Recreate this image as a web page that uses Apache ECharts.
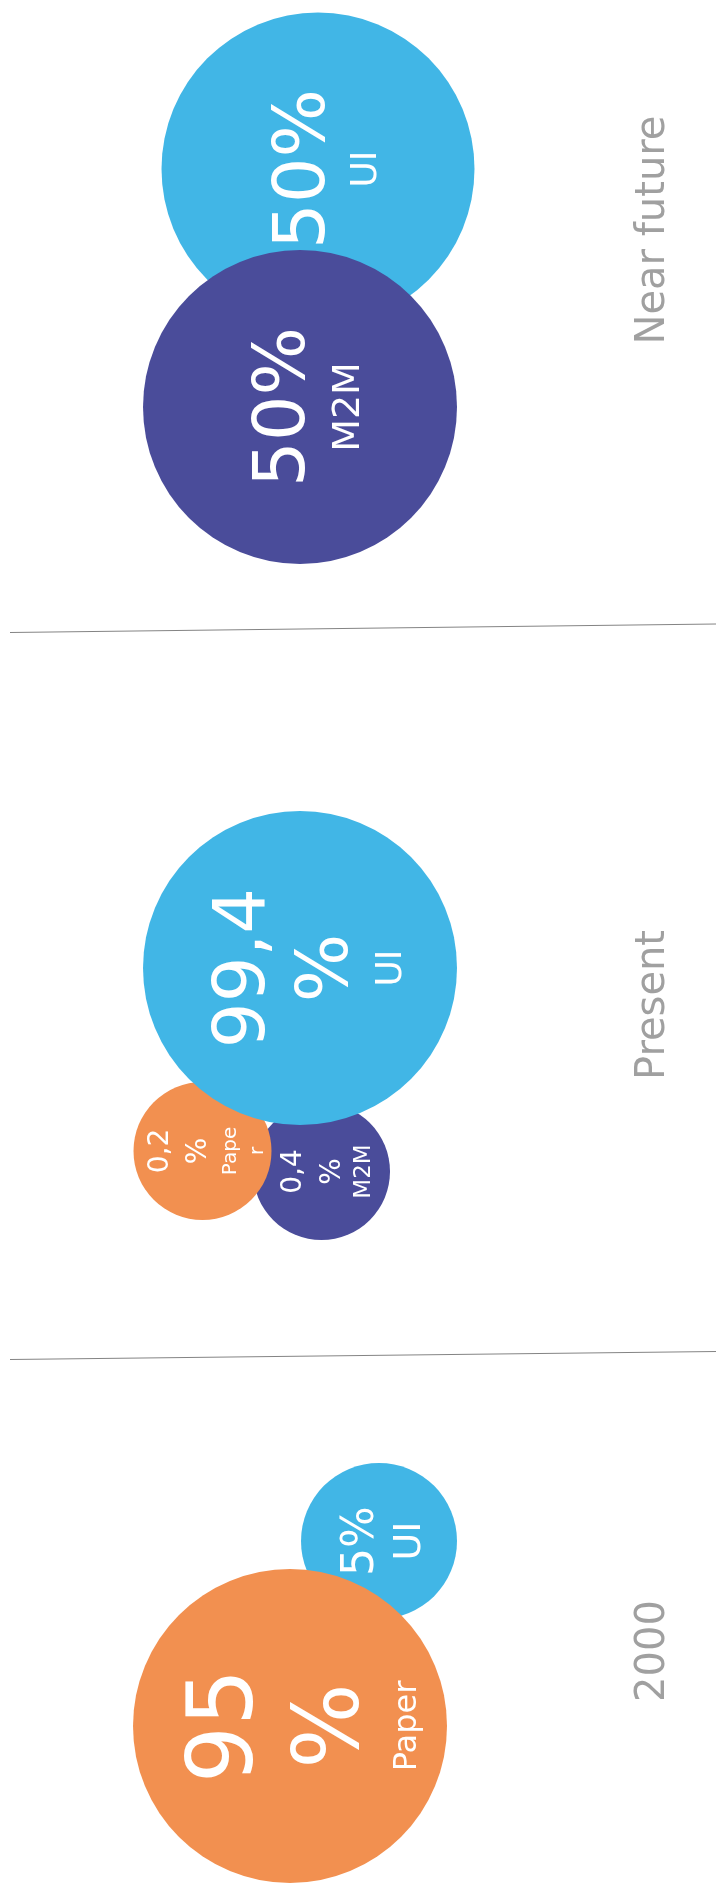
<!DOCTYPE html>
<html>
<head>
<meta charset="utf-8">
<title>UI / M2M / Paper</title>
<script src="https://cdn.jsdelivr.net/npm/echarts@6/dist/echarts.min.js"></script>
<style>
  html, body { margin: 0; padding: 0; background: #fff; }
  #chart { width: 720px; height: 1892px; }
</style>
</head>
<body>
<div id="chart"></div>
<script>
// data
const periods = ['Near future', 'Present', '2000']
const categories = ['UI', 'M2M', 'Paper']
const uiShare = [50, 99.4, 5]
const m2mShare = [50, 0.4, null]
const paperShare = [null, 0.2, 95]

// layout (axis units), drawing order = stacking order
const bubbleLayout = [
  { period: 0, cat: 'UI', x: 318, y: 169, d: 313, num: 72, numLH: 80, sub: 36, subLH: 44 },
  { period: 0, cat: 'M2M', x: 300, y: 407, d: 314, num: 72, numLH: 80, sub: 38, subLH: 48 },
  { period: 1, cat: 'M2M', x: 321.5, y: 1171.5, d: 137, num: 28, numLH: 39, sub: 23, subLH: 24, wrapNum: true },
  { period: 1, cat: 'Paper', x: 202.5, y: 1151, d: 138, num: 28, numLH: 38, sub: 20, subLH: 27, wrapNum: true, subChars: 4 },
  { period: 1, cat: 'UI', x: 300, y: 968, d: 314, num: 72, numLH: 83, sub: 36, subLH: 45, wrapNum: true },
  { period: 2, cat: 'UI', x: 379, y: 1541, d: 156, num: 44, numLH: 50, sub: 38, subLH: 46 },
  { period: 2, cat: 'Paper', x: 290, y: 1726, d: 314, num: 90, numLH: 106, sub: 32, subLH: 40, wrapNum: true }
]
const periodLabelPos = [[654, 230], [654, 1005], [654, 1651]]
const dividers = [
  [[10, 632.5], [716, 624]],
  [[10, 1359.5], [716, 1351.5]]
]

const colors = { UI: '#41B6E6', M2M: '#4A4C9A', Paper: '#F29050' }
const shares = { UI: uiShare, M2M: m2mShare, Paper: paperShare }
const fontFamily = 'DejaVu Sans'

function chunk(str, n) {
  if (!n) return [str]
  var out = []
  for (var i = 0; i < str.length; i += n) out.push(str.slice(i, i + n))
  return out
}

var series = []

dividers.forEach(function(seg) {
  series.push({
    type: 'line',
    data: seg,
    symbol: 'none',
    silent: true,
    z: 1,
    lineStyle: { color: '#848484', width: 1 }
  })
})

bubbleLayout.forEach(function(b, i) {
  var value = shares[b.cat][b.period]
  var numText = String(value).replace('.', ',')
  var lines = b.wrapNum ? ['{n|' + numText + '}', '{n|%}'] : ['{n|' + numText + '%}']
  chunk(b.cat, b.subChars).forEach(function(s) { lines.push('{c|' + s + '}') })
  series.push({
    name: periods[b.period] + ' ' + b.cat,
    type: 'scatter',
    z: 10 + i,
    silent: true,
    symbolSize: b.d,
    itemStyle: { color: colors[b.cat], opacity: 1 },
    label: {
      show: true,
      position: 'inside',
      rotate: 90,
      // offset is in the rotated text frame: +y moves the block toward the right
      offset: [0, Math.round(b.num * 0.13)],
      align: 'center',
      verticalAlign: 'middle',
      formatter: lines.join('\n'),
      rich: {
        n: { color: '#fff', fontFamily: fontFamily, fontSize: b.num, lineHeight: b.numLH, align: 'center' },
        c: { color: '#fff', fontFamily: fontFamily, fontSize: b.sub, lineHeight: b.subLH, align: 'center' }
      }
    },
    data: [[b.x, b.y, value]]
  })
})

series.push({
  type: 'scatter',
  silent: true,
  symbolSize: 1,
  itemStyle: { color: 'rgba(0,0,0,0)' },
  label: {
    show: true,
    position: 'inside',
    rotate: 90,
    formatter: function(p) { return periods[p.dataIndex] },
    color: '#888888',
    fontFamily: fontFamily,
    fontSize: 40
  },
  data: periodLabelPos
})

var chart = echarts.init(document.getElementById('chart'), null, { renderer: 'canvas' })
chart.setOption({
  animation: false,
  backgroundColor: '#ffffff',
  grid: { left: 0, right: 0, top: 0, bottom: 0 },
  xAxis: { type: 'value', min: 0, max: 720, show: false },
  yAxis: { type: 'value', min: 0, max: 1892, inverse: true, show: false },
  series: series
})
</script>
</body>
</html>
